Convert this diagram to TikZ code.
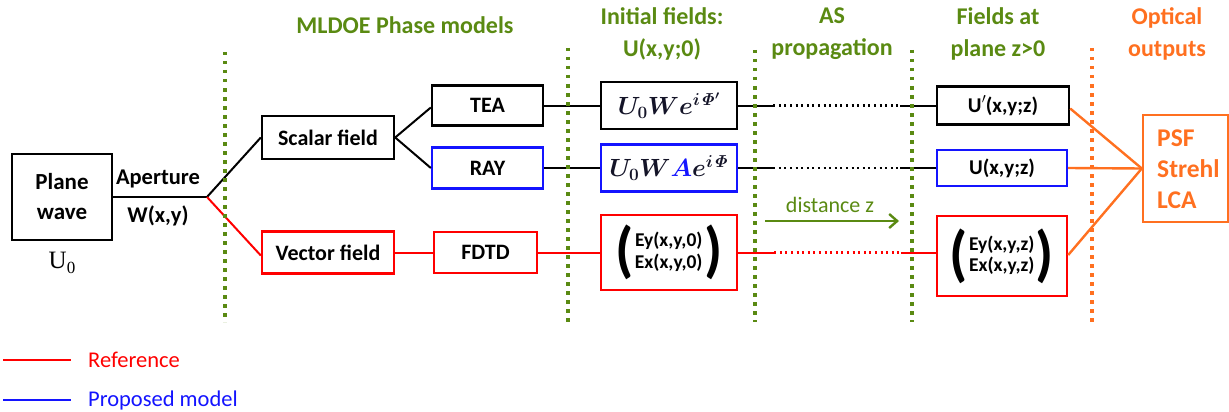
\documentclass[tikz,border=0pt]{standalone}
\usepackage[no-math]{fontspec}
\setmainfont{Carlito}
\newfontfamily\serifU{Liberation Serif}
\usepackage{amsmath,bm}
\usetikzlibrary{arrows.meta}

\definecolor{lblgreen}{RGB}{90,138,18}
\definecolor{outorange}{RGB}{255,112,32}
\definecolor{refred}{RGB}{255,0,0}
\definecolor{propblue}{RGB}{20,20,255}
\definecolor{mathdark}{RGB}{20,20,40}

% tall bold parentheses around a two-line field vector
\newcommand{\fieldvec}[2]{%
  \raisebox{-12.5pt}{\scalebox{3}[3.15]{(}}\kern1pt
  \begin{tabular}{@{}c@{}}#1\\#2\end{tabular}\kern1.5pt
  \raisebox{-12.5pt}{\scalebox{3}[3.15]{)}}}

\begin{document}
\begin{tikzpicture}[x=1pt,y=-1pt,
  lbl/.style={font=\fontsize{22.5}{30}\selectfont\bfseries, align=center, inner sep=0},
  box/.style={draw, line width=2.4pt, inner sep=0, align=center,
              font=\fontsize{22}{30}\selectfont\bfseries},
  refbox/.style={box, draw=refred},
  propbox/.style={box, draw=propblue},
  vecbox/.style={font=\fontsize{19.5}{21.5}\selectfont\bfseries},
  conn/.style={line width=2pt},
  refconn/.style={conn, refred},
  prop/.style={line width=2.4pt, dash pattern=on 2pt off 3.6pt},
  gdots/.style={lblgreen, line width=3.5pt, dash pattern=on 3.5pt off 5.5pt},
  odots/.style={outorange, line width=3.5pt, dash pattern=on 3.5pt off 5.5pt},
  outline/.style={outorange, line width=2.4pt},
  head/.style={lbl, text=lblgreen, font=\fontsize{24}{32}\selectfont\bfseries},
  mathbox/.style={font=\fontsize{24}{28}\selectfont},
  plain/.style={inner sep=0, font=\fontsize{22.5}{25}\selectfont}
]
\useasboundingbox (0,0) rectangle (1229,412);

% source and aperture
\node[box, minimum width=100, minimum height=86, font=\fontsize{23}{30}\selectfont\bfseries] (plane) at (62,197) {Plane\\wave};
\node[inner sep=0, font=\fontsize{25}{28}\selectfont\serifU] (u0) at (62,263) {U\raisebox{-5pt}{\fontsize{17}{17}\selectfont 0}};
\coordinate (J) at (207,197);
\node[lbl] (aper) at (158,179) {Aperture};
\node[lbl] (wxy) at (158,216) {W(x,y)};

% phase models
\node[box, minimum width=132, minimum height=43] (scalar) at (328,137.5) {Scalar field};
\node[refbox, minimum width=132, minimum height=42] (vector) at (328,252.5) {Vector field};
\node[box, minimum width=111, minimum height=40] (tea) at (487.5,105.5) {TEA};
\node[propbox, minimum width=111, minimum height=41] (ray) at (487.5,168) {RAY};
\node[refbox, minimum width=103, minimum height=41] (fdtd) at (485.5,252.5) {FDTD};

% initial fields
\node[box, minimum width=136, minimum height=47, mathbox, text=mathdark] (i1) at (669,105.5)
  {$\bm{U_0 W e^{i\mathit{\Phi}'}}$};
\node[propbox, minimum width=136, minimum height=47, mathbox, text=mathdark] (i2) at (669,168)
  {$\bm{U_0 W}\textcolor{propblue}{\bm{A}}\bm{e^{i\mathit{\Phi}}}$};
\node[refbox, minimum width=136, minimum height=75, vecbox] (i3) at (669,252.5)
  {\fieldvec{Ey(x,y,0)}{Ex(x,y,0)}};

% fields at plane z>0
\node[box, minimum width=132, minimum height=38, font=\fontsize{21}{30}\selectfont\bfseries] (f1) at (1003,105.5)
  {U\kern0.3pt\raisebox{1.5pt}{$^{\prime}$}\kern-0.5pt(x,y;z)};
\node[propbox, minimum width=130, minimum height=36, font=\fontsize{21}{30}\selectfont\bfseries] (f2) at (1002,168) {U(x,y;z)};
\node[refbox, minimum width=130, minimum height=80, vecbox] (f3) at (1002,256)
  {\fieldvec{Ey(x,y,z)}{Ex(x,y,z)}};

% optical outputs
\node[draw=outorange, line width=2.4pt, minimum width=85, minimum height=107, inner sep=0] (out) at (1185.5,168.5) {};
\node[lbl, text=outorange, align=left, anchor=west, font=\fontsize{25.5}{31}\selectfont\bfseries] (outtxt) at (1157,169) {PSF\\Strehl\\LCA};

% connectors
\draw[conn] (plane.east) -- (J);
\draw[conn] (J) -- (scalar.west);
\draw[refconn] (J) -- ([yshift=-3]vector.west);
\draw[conn] (scalar.east) -- ([yshift=-2]tea.west);
\draw[conn] (scalar.east) -- (ray.west);
\draw[conn] (tea.east) -- (i1.west);
\draw[conn] (ray.east) -- (i2.west);
\draw[refconn] (vector.east) -- (fdtd.west);
\draw[refconn] (fdtd.east) -- (i3.west);

% angular spectrum propagation
\draw[conn] (i1.east) -- ++(35,0) coordinate (p1);
\draw[conn] (f1.west) -- ++(-36,0) coordinate (q1);
\draw[prop] (p1) -- (q1);
\draw[conn] (i2.east) -- ++(35,0) coordinate (p2);
\draw[conn] (f2.west) -- ++(-36,0) coordinate (q2);
\draw[prop] (p2) -- (q2);
\draw[refconn] (i3.east) -- ++(36,0) coordinate (p3);
\draw[refconn] (f3.west |- i3.east) -- ++(-35,0) coordinate (q3);
\draw[prop, refred] (p3) -- (q3);

\coordinate (da) at (765,221);
\coordinate (db) at (899,221);
\draw[lblgreen, line width=2.4pt, -{Straight Barb[length=8pt,width=14pt,line width=2.4pt]}] (da) -- (db);
\node[plain, text=lblgreen, font=\fontsize{22}{25}\selectfont] (dz) at (830,205) {distance z};

% outputs
\draw[outline] ([yshift=-3]f1.east) -- (out.west);
\draw[outline] (f2.east) -- (out.west);
\draw[outline] ([yshift=1]f3.east) -- (out.west);

% stage separators
\foreach \n/\x/\t in {g1/225/52, g2/568/48, g3/755/50, g4/912/50}{
  \coordinate (\n t) at (\x,\t);
  \coordinate (\n b) at (\x,322);
  \draw[gdots] (\n t) -- (\n b);
}
\coordinate (o1t) at (1092,48);
\coordinate (o1b) at (1092,322);
\draw[odots] (o1t) -- (o1b);

% stage headings
\node[head] (h1) at (405,25) {MLDOE Phase models};
\node[head] (h2) at (662,34) {Initial fields:\\U(x,y;0)};
\node[head] (h3) at (832,34) {AS\\propagation};
\node[head] (h4) at (998,34) {Fields at\\plane z>0};
\node[head, text=outorange] (h5) at (1167,34) {Optical\\outputs};

% legend
\coordinate (l1a) at (3,360);
\coordinate (l1b) at (71,360);
\draw[refconn] (l1a) -- (l1b);
\node[plain, anchor=west, text=refred] (leg1) at (88,360) {Reference};
\coordinate (l2a) at (3,400);
\coordinate (l2b) at (71,400);
\draw[conn, propblue] (l2a) -- (l2b);
\node[plain, anchor=west, text=propblue] (leg2) at (88,400) {Proposed model};
\end{tikzpicture}
\end{document}
